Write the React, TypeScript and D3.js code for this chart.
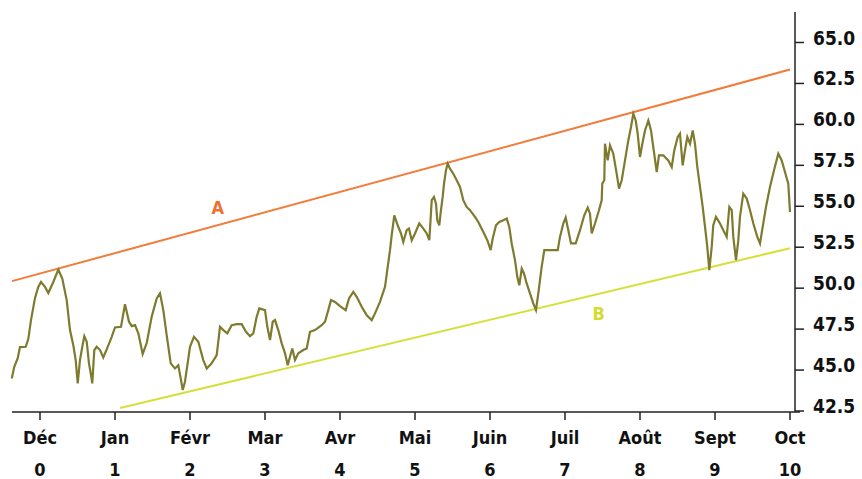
import React from "react";
import * as d3 from "d3";

const monthLabels = ["Déc", "Jan", "Févr", "Mar", "Avr", "Mai", "Juin", "Juil", "Août", "Sept", "Oct"];
const monthNumbers = [0, 1, 2, 3, 4, 5, 6, 7, 8, 9, 10];
const yTicks = [42.5, 45.0, 47.5, 50.0, 52.5, 55.0, 57.5, 60.0, 62.5, 65.0];

// series: time in months (0 = Déc) and value
const seriesT = [
  -0.377, -0.343, -0.297, -0.267, -0.191, -0.156, -0.12, -0.067, -0.023, 0.013,
  0.067, 0.111, 0.177, 0.244, 0.297, 0.356, 0.4, 0.444, 0.476, 0.503,
  0.533, 0.564, 0.591, 0.623, 0.653, 0.68, 0.697, 0.724, 0.756, 0.8,
  0.844, 0.903, 0.956, 1.0, 1.08, 1.133, 1.187, 1.223, 1.267, 1.311,
  1.369, 1.423, 1.489, 1.556, 1.6, 1.644, 1.689, 1.743, 1.8, 1.844,
  1.876, 1.903, 1.933, 2.0, 2.053, 2.111, 2.177, 2.223, 2.289, 2.356,
  2.4, 2.444, 2.497, 2.556, 2.623, 2.689, 2.747, 2.8, 2.844, 2.889,
  2.924, 3.0, 3.031, 3.067, 3.103, 3.133, 3.177, 3.223, 3.267, 3.303,
  3.333, 3.364, 3.4, 3.444, 3.511, 3.556, 3.6, 3.667, 3.756, 3.8,
  3.844, 3.88, 3.933, 4.0, 4.076, 4.12, 4.177, 4.223, 4.289, 4.356,
  4.423, 4.467, 4.533, 4.6, 4.636, 4.667, 4.689, 4.724, 4.769, 4.813,
  4.844, 4.889, 4.92, 4.956, 5.0, 5.057, 5.111, 5.156, 5.191, 5.223,
  5.253, 5.28, 5.297, 5.324, 5.343, 5.369, 5.387, 5.413, 5.436, 5.467,
  5.511, 5.556, 5.6, 5.644, 5.689, 5.733, 5.8, 5.844, 5.911, 5.964,
  6.009, 6.036, 6.08, 6.124, 6.177, 6.223, 6.257, 6.289, 6.333, 6.364,
  6.391, 6.423, 6.453, 6.489, 6.533, 6.577, 6.613, 6.644, 6.689, 6.724,
  6.903, 6.933, 6.977, 7.009, 7.044, 7.08, 7.143, 7.2, 7.257, 7.303,
  7.333, 7.356, 7.4, 7.453, 7.489, 7.497, 7.524, 7.533, 7.569, 7.6,
  7.644, 7.689, 7.72, 7.756, 7.8, 7.844, 7.88, 7.911, 7.943, 7.969,
  8.0, 8.031, 8.067, 8.111, 8.147, 8.177, 8.223, 8.253, 8.311, 8.377,
  8.423, 8.457, 8.503, 8.533, 8.569, 8.6, 8.631, 8.667, 8.703, 8.733,
  8.764, 8.8, 8.836, 8.867, 8.897, 8.924, 8.956, 8.977, 9.013, 9.067,
  9.111, 9.156, 9.191, 9.223, 9.244, 9.28, 9.311, 9.333, 9.377, 9.423,
  9.467, 9.511, 9.564, 9.6, 9.636, 9.68, 9.733, 9.787, 9.844, 9.889,
  9.933, 9.977, 10.0,
];
const seriesV = [
  44.49, 45.2, 45.73, 46.4, 46.42, 46.89, 48.05, 49.39, 50.08, 50.38,
  50.08, 49.71, 50.38, 51.14, 50.59, 49.27, 47.44, 46.52, 45.61, 44.19,
  45.61, 46.42, 47.07, 46.73, 45.41, 44.7, 44.19, 46.22, 46.42, 46.22,
  45.77, 46.42, 47.03, 47.6, 47.64, 49.02, 47.95, 47.68, 47.74, 47.24,
  45.98, 46.65, 48.25, 49.37, 49.68, 48.66, 47.13, 45.41, 45.1, 45.3,
  44.49, 43.78, 44.29, 46.42, 47.03, 46.73, 45.61, 45.1, 45.41, 45.91,
  47.64, 47.44, 47.24, 47.74, 47.8, 47.8, 47.34, 47.07, 47.24, 48.25,
  48.76, 48.66, 47.64, 46.83, 47.95, 48.05, 47.44, 46.63, 46.02, 45.3,
  45.81, 46.32, 45.61, 46.02, 46.22, 46.32, 47.34, 47.44, 47.74, 47.95,
  48.66, 49.27, 49.16, 48.9, 48.66, 49.37, 49.77, 49.47, 48.86, 48.35,
  48.05, 48.46, 49.16, 50.08, 51.3, 52.32, 53.23, 54.45, 53.84, 53.34,
  52.82, 53.54, 53.64, 52.93, 53.34, 53.95, 53.64, 53.34, 52.93, 55.37,
  55.57, 55.16, 54.15, 53.84, 54.65, 55.57, 56.38, 57.2, 57.6, 57.3,
  56.99, 56.59, 56.18, 55.37, 54.96, 54.76, 54.35, 54.04, 53.43, 52.93,
  52.32, 53.03, 53.84, 54.04, 54.15, 54.25, 53.74, 52.73, 51.71, 50.69,
  50.18, 51.2, 50.9, 50.29, 49.68, 49.07, 48.66, 49.68, 51.3, 52.32,
  52.32, 53.13, 53.95, 54.31, 53.54, 52.73, 52.73, 53.54, 54.45, 54.92,
  54.55, 53.34, 53.95, 54.76, 55.37, 56.38, 56.59, 58.82, 57.8, 58.72,
  58.21, 56.99, 56.08, 56.59, 57.8, 59.02, 59.84, 60.65, 60.24, 59.43,
  58.01, 58.82, 59.63, 60.24, 59.63, 58.62, 57.09, 58.11, 58.11, 57.8,
  57.4, 58.41, 59.23, 59.43, 57.5, 58.41, 59.23, 58.82, 59.63, 58.82,
  57.4, 56.18, 54.96, 53.74, 52.52, 51.1, 52.52, 53.84, 54.35, 53.95,
  53.54, 53.13, 54.96, 54.76, 53.13, 51.71, 52.93, 54.35, 55.77, 55.47,
  54.76, 53.95, 53.13, 52.73, 53.74, 54.96, 56.18, 57.2, 58.21, 57.8,
  57.09, 56.38, 54.65,
];

// trend lines (start / end in months and values)
const lineAT = [-0.373, 10];
const lineAV = [50.43, 63.35];
const lineBT = [1.067, 10];
const lineBV = [42.68, 52.44];

const W = 862;
const H = 479;
const FONT = "'DejaVu Sans Condensed', 'DejaVu Sans', sans-serif";

export default function App() {
  const x = d3.scaleLinear().domain([0, 10]).range([40, 790]);
  const y = d3.scaleLinear().domain([42.5, 65]).range([411, 42.5]);

  const line = d3
    .line<number>()
    .x((_, i) => x(seriesT[i]))
    .y((v) => y(v));

  const seg = (ts: number[], vs: number[]) =>
    d3.line<number>().x((_, i) => x(ts[i])).y((v) => y(v))(vs) || "";

  const axisX = 795;
  const axisY = 412;

  return (
    <svg
      width={W}
      height={H}
      style={{ position: "absolute", left: 0, top: 0, background: "#fff" }}
    >
      {/* trend lines */}
      <path d={seg(lineAT, lineAV)} fill="none" stroke="#f47a38" strokeWidth={2} />
      <path d={seg(lineBT, lineBV)} fill="none" stroke="#d6e03c" strokeWidth={2} />

      {/* series */}
      <path d={line(seriesV) || ""} fill="none" stroke="#7e7a2e" strokeWidth={2.2} strokeLinejoin="miter" />

      {/* labels A / B */}
      <text x={x(2.37)} y={y(54.5)} fill="#f07030" fontFamily={FONT} fontWeight="bold" fontSize={18} textAnchor="middle">
        A
      </text>
      <text x={x(7.45)} y={y(48.05)} fill="#d4dc30" fontFamily={FONT} fontWeight="bold" fontSize={18} textAnchor="middle">
        B
      </text>

      {/* x axis */}
      <line x1={12} x2={800} y1={axisY} y2={axisY} stroke="#222" strokeWidth={1.5} />
      {monthNumbers.map((m, i) => (
        <g key={m}>
          <line x1={x(m)} x2={x(m)} y1={axisY} y2={axisY + 8} stroke="#222" strokeWidth={1.5} />
          <text x={x(m)} y={444} textAnchor="middle" fontFamily={FONT} fontWeight="bold" fontSize={18} fill="#111">
            {monthLabels[i]}
          </text>
          <text x={x(m)} y={476} textAnchor="middle" fontFamily={FONT} fontWeight="bold" fontSize={18} fill="#111">
            {m}
          </text>
        </g>
      ))}

      {/* y axis */}
      <line x1={axisX} x2={axisX} y1={12} y2={axisY} stroke="#222" strokeWidth={1.5} />
      {yTicks.map((t) => (
        <g key={t}>
          <line x1={axisX} x2={axisX + 9} y1={y(t)} y2={y(t)} stroke="#222" strokeWidth={1.5} />
          <text x={813} y={y(t) + 2} fontFamily={FONT} fontWeight="bold" fontSize={19} fill="#111">
            {t.toFixed(1)}
          </text>
        </g>
      ))}
    </svg>
  );
}
